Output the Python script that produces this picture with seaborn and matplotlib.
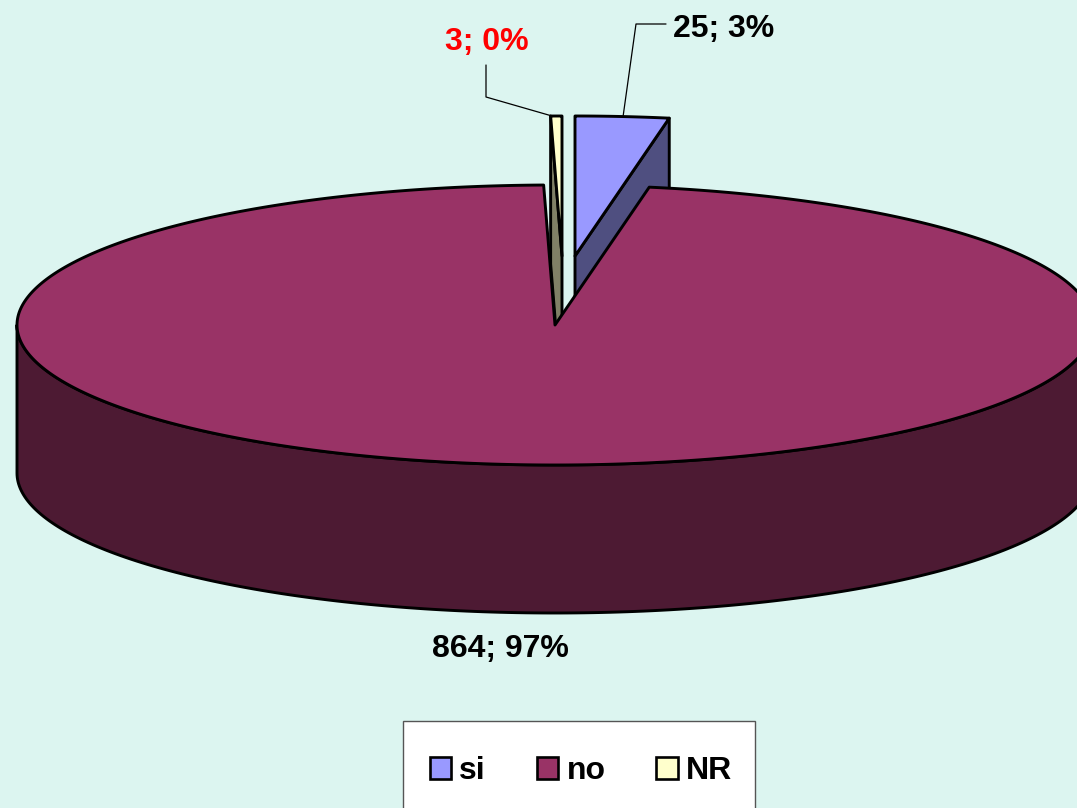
import numpy as np
import matplotlib
matplotlib.use('Agg')
import matplotlib.pyplot as plt
from matplotlib.patches import Patch, Rectangle
import seaborn as sns

# data
labels = ['si', 'no', 'NR']
values = [25, 864, 3]

# style
BG = '#DCF5F0'
TOP_COLORS = ['#9999FF', '#993366', '#FFFFCC']
WALL_COLORS = ['#4F4F80', '#4D1A33', '#808066']
LW = 2.1
CX, CY = 555, 325      # pie centre, px
RX, RY = 538, 140      # ellipse radii
DEPTH = 148
OFFSETS = {'si': (20, -69), 'no': (0, 0), 'NR': (7, -69)}

sns.set_theme(style='white')
plt.rcParams['font.family'] = ['Liberation Sans', 'DejaVu Sans']
plt.rcParams['font.weight'] = 'bold'

fig = plt.figure(figsize=(10.77, 8.08), dpi=100, facecolor=BG)
ax = fig.add_axes([0, 0, 1, 1])
ax.set_xlim(0, 1077)
ax.set_ylim(808, 0)
ax.axis('off')


def rim(a0, a1, ox=0, oy=0, n=200):
    # angles in degrees, clockwise from 12 o'clock
    t = np.radians(np.linspace(a0, a1, n))
    return CX + ox + RX * np.sin(t), CY + oy - RY * np.cos(t)


# slice angles from the values, going clockwise from the top
total = sum(values)
sweep = np.array(values) / total * 360
ends = np.cumsum(sweep)
starts = ends - sweep
ang = {k: (a, b) for k, a, b in zip(labels, starts, ends)}
col = dict(zip(labels, TOP_COLORS))
wall = dict(zip(labels, WALL_COLORS))
edge = dict(edgecolor='black', linewidth=LW, joinstyle='round')

# si, exploded
ox, oy = OFFSETS['si']
a0, a1 = ang['si']
x, y = rim(a0, a1, ox, oy)
apex = (CX + ox, CY + oy)
ax.fill([apex[0], x[-1], x[-1], apex[0]],
        [apex[1], y[-1], y[-1] + DEPTH, apex[1] + DEPTH],
        facecolor=wall['si'], **edge)
ax.fill(np.r_[apex[0], x], np.r_[apex[1], y], facecolor=col['si'], **edge)

# NR, exploded
ox, oy = OFFSETS['NR']
a0, a1 = ang['NR']
x, y = rim(a0, a1, ox, oy)
apex = (CX + ox, CY + oy)
ax.fill([apex[0], x[0], x[0], apex[0]],
        [apex[1], y[0], y[0] + DEPTH, apex[1] + DEPTH],
        facecolor=wall['NR'], **edge)
ax.fill(np.r_[apex[0], x], np.r_[apex[1], y], facecolor=col['NR'], **edge)

# no, the big one: front wall then top
a0, a1 = ang['no']
x, y = rim(90, 270)
ax.fill(np.r_[x, x[::-1]], np.r_[y, y[::-1] + DEPTH],
        facecolor=wall['no'], **edge)
x, y = rim(a0, a1, n=600)
ax.fill(np.r_[CX, x], np.r_[CY, y], facecolor=col['no'], **edge)

# data labels and leader lines
text = [f'{v}; {v / total * 100:.0f}%' for v in values]
ax.plot([666, 636, 623], [24, 24, 117], color='black', lw=0.9)
ax.plot([486, 486, 552], [65, 97, 116], color='black', lw=0.9)
ax.text(673, 29, text[0], fontsize=23, color='black', va='center', ha='left')
ax.text(500, 649, text[1], fontsize=23, color='black', va='center', ha='center')
ax.text(486.5, 42, text[2], fontsize=23, color='red', va='center', ha='center')

# legend box runs off the bottom of the picture
ax.add_patch(Rectangle((403, 721), 352, 110, facecolor='white',
                       edgecolor='#555555', linewidth=1.0, zorder=4))
handles = [Patch(facecolor=c, edgecolor='black', linewidth=1.9) for c in TOP_COLORS]
ax.legend(handles, labels, ncol=3, frameon=False, fontsize=23,
          loc='center', bbox_to_anchor=(581, 771), bbox_transform=ax.transData,
          handlelength=0.67, handleheight=0.67, handletextpad=0.25,
          columnspacing=1.6, borderpad=0, labelcolor='black').set_zorder(5)

fig.savefig('out.png', dpi=100, facecolor=BG)
